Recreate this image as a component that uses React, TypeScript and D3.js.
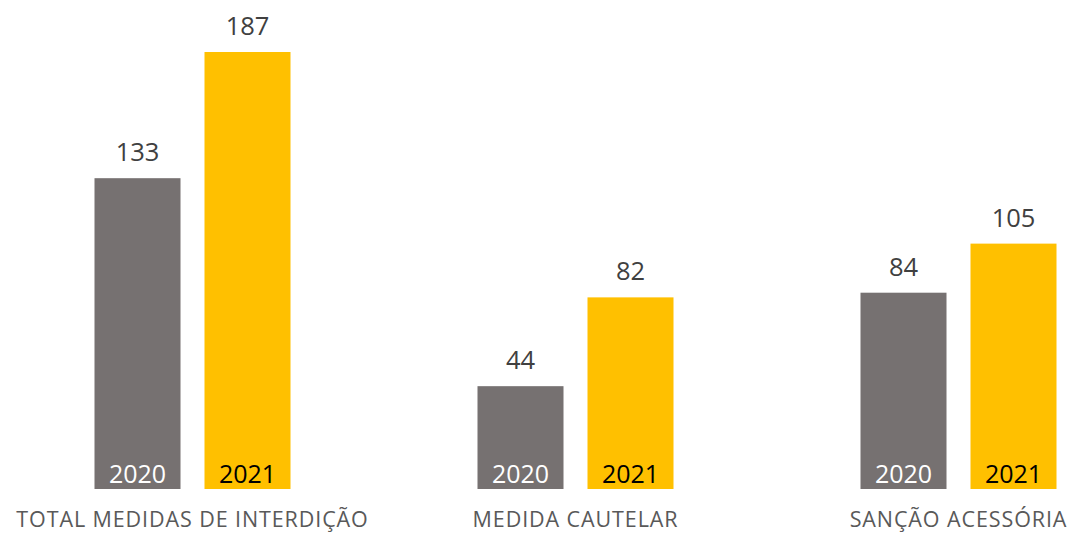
import React from "react";
import * as d3 from "d3";

const categories = ["TOTAL MEDIDAS DE INTERDIÇÃO", "MEDIDA CAUTELAR", "SANÇÃO ACESSÓRIA"];
const years = ["2020", "2021"];
const values2020 = [133, 44, 84];
const values2021 = [187, 82, 105];

const W = 1071;
const H = 533;
const colors: Record<string, string> = { "2020": "#767171", "2021": "#FFC000" };
const yearText: Record<string, string> = { "2020": "#FFFFFF", "2021": "#000000" };
const FONT = "'Open Sans', Calibri, sans-serif";

export default function App() {
  const x0 = d3.scaleBand<string>().domain(categories).range([1, 1150]).paddingInner(0).paddingOuter(0);
  const x1 = d3.scaleBand<string>().domain(years).range([0, x0.bandwidth()]).paddingInner(24 / 110).paddingOuter(0.85);
  const y = d3.scaleLinear().domain([0, 187]).range([489, 52]);

  const rows = categories.map((c, i) => ({ cat: c, vals: [values2020[i], values2021[i]] }));

  return (
    <svg width={W} height={H} style={{ position: "absolute", left: 0, top: 0 }} fontFamily={FONT}>
      {rows.map((r) => (
        <g key={r.cat} transform={`translate(${x0(r.cat)},0)`}>
          {years.map((yr, j) => {
            const v = r.vals[j];
            const bx = x1(yr)!;
            const bw = x1.bandwidth();
            return (
              <g key={yr}>
                <rect x={bx} y={y(v)} width={bw} height={y(0) - y(v)} fill={colors[yr]} />
                <text x={bx + bw / 2} y={y(v) - 17} textAnchor="middle" fontSize={25.5} fill="#404040">
                  {v}
                </text>
                <text x={bx + bw / 2} y={y(0) - 6} textAnchor="middle" fontSize={25} fill={yearText[yr]}>
                  {yr}
                </text>
              </g>
            );
          })}
          <text x={x0.bandwidth() / 2} y={527} textAnchor="middle" fontSize={21.5} letterSpacing={0.9} fill="#595959">
            {r.cat}
          </text>
        </g>
      ))}
    </svg>
  );
}
